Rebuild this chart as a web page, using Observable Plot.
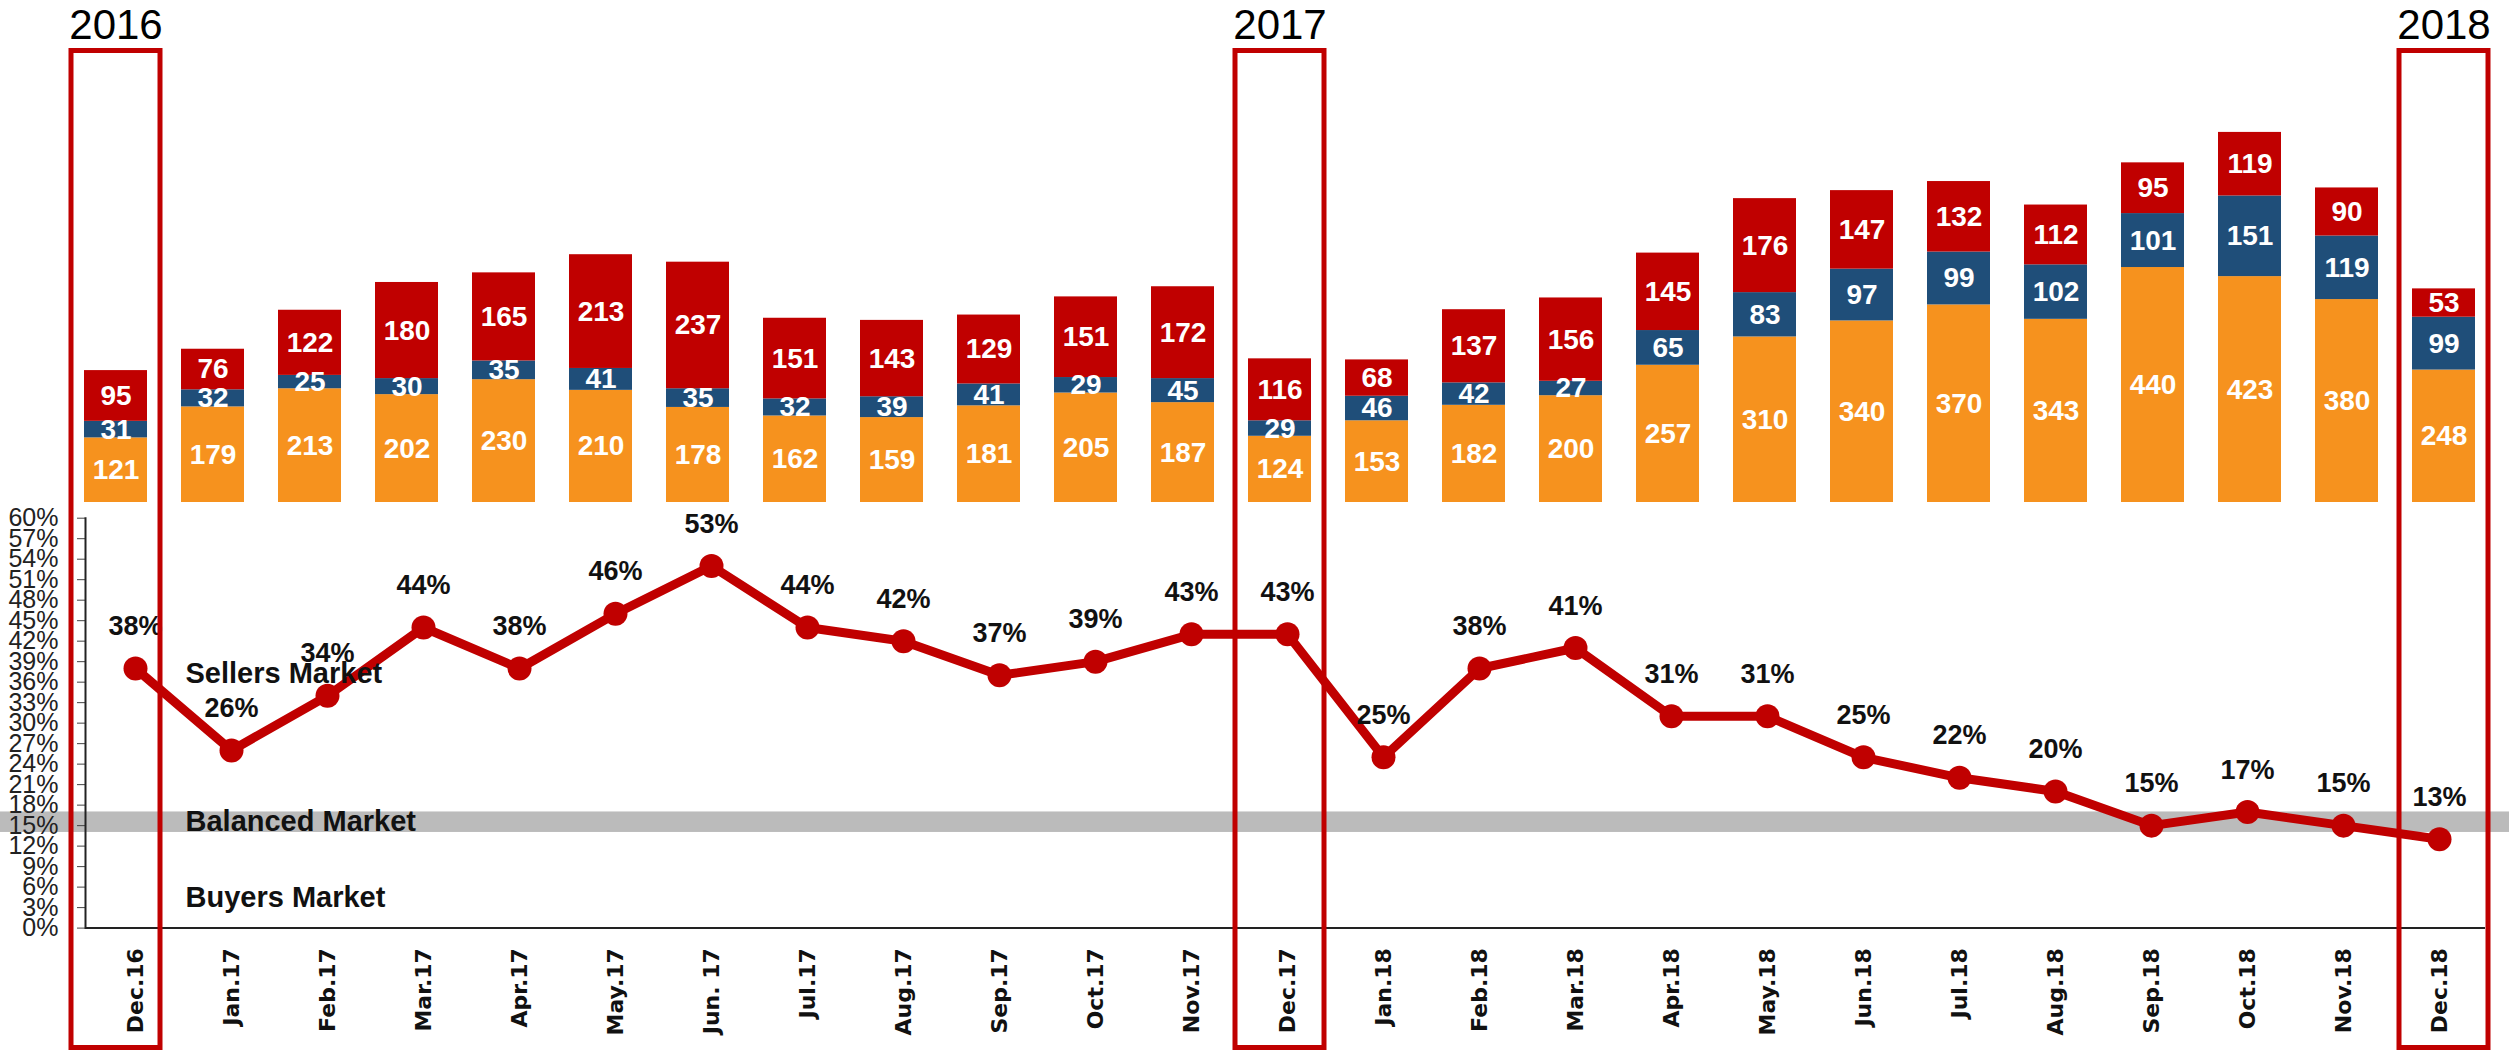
<!DOCTYPE html>
<html>
<head>
<meta charset="utf-8">
<script src="https://cdn.jsdelivr.net/npm/d3@7"></script>
<script src="https://cdn.jsdelivr.net/npm/@observablehq/plot@0.6"></script>
<style>
  body { margin: 0; background: #ffffff; }
  #chart { position: relative; width: 2509px; height: 1052px; background: #ffffff; }
  #chart svg { position: absolute; left: 0; top: 0; }
</style>
</head>
<body>
<div id="chart"></div>
<script>
// ---------- data ----------
const months = ["Dec.16","Jan.17","Feb.17","Mar.17","Apr.17","May.17","Jun. 17","Jul.17","Aug.17","Sep.17","Oct.17","Nov.17","Dec.17","Jan.18","Feb.18","Mar.18","Apr.18","May.18","Jun.18","Jul.18","Aug.18","Sep.18","Oct.18","Nov.18","Dec.18"];
const bottomValues = [121,179,213,202,230,210,178,162,159,181,205,187,124,153,182,200,257,310,340,370,343,440,423,380,248];
const middleValues = [31,32,25,30,35,41,35,32,39,41,29,45,29,46,42,27,65,83,97,99,102,101,151,119,99];
const topValues    = [95,76,122,180,165,213,237,151,143,129,151,172,116,68,137,156,145,176,147,132,112,95,119,90,53];
const ratioValues  = [38,26,34,44,38,46,53,44,42,37,39,43,43,25,38,41,31,31,25,22,20,15,17,15,13];
const yearLabels   = ["2016","2017","2018"];
const yearMonths   = ["Dec.16","Dec.17","Dec.18"];
const balancedBand = [14, 17];
const zoneLabels   = ["Sellers Market","Balanced Market","Buyers Market"];
const zoneLevels   = [37.2, 15.5, 4.4];
const pctTicks     = d3.range(0, 61, 3);

// ---------- derived tables ----------
const seriesNames = ["bottom","middle","top"];
const seriesColors = ["#F6921E","#1F4E79","#C00000"];
const seriesValues = [bottomValues, middleValues, topValues];
const barData = [];
seriesNames.forEach((s, k) => months.forEach((m, i) => barData.push({month: m, series: s, value: seriesValues[k][i]})));
const lineData = months.map((m, i) => ({month: m, pct: ratioValues[i]}));
const highlightData = yearMonths.map((m, i) => ({month: m, year: yearLabels[i]}));
const zoneData = zoneLabels.map((l, i) => ({label: l, level: zoneLevels[i]}));

const W = 2509, H = 1052;
const RED = "#C00000";
const SANS = "'Liberation Sans', Arial, sans-serif";
const noBg = {background: "none", overflow: "visible"};
const barX = {type: "band", domain: months, range: [83, 2477], paddingInner: 0.35, paddingOuter: 0, axis: null};

// ---------- stacked bars ----------
const bars = Plot.plot({
  width: W, height: H, style: noBg,
  x: barX,
  y: {domain: [0, 940], range: [502, 0], axis: null},
  color: {type: "ordinal", domain: seriesNames, range: seriesColors},
  marks: [
    Plot.barY(barData, {x: "month", y: "value", z: "series", fill: "series", order: seriesNames}),
    Plot.text(barData, Plot.stackY({x: "month", y: "value", z: "series", order: seriesNames,
      text: "value", fill: "white", fontSize: 28, fontWeight: "bold", fontFamily: SANS}))
  ]
});

// ---------- ratio line ----------
const line = Plot.plot({
  width: W, height: H, style: noBg,
  marginLeft: 85, marginRight: 24, marginTop: 517.7, marginBottom: 124.4,
  x: {type: "point", domain: months, range: [133, 2440], padding: 0, label: null},
  y: {domain: [0, 60], label: null},
  marks: [
    Plot.rect([balancedBand], {y1: d => d[0], y2: d => d[1], fill: "#BBBBBB", insetLeft: -85, insetRight: -24}),
    Plot.axisY({ticks: pctTicks, tickFormat: d => d + "%", tickSize: 8, tickPadding: 19,
      fontSize: 25, fontFamily: SANS, fill: "#222", stroke: "#444", label: null}),
    Plot.frame({anchor: "left", stroke: "#222", strokeWidth: 2}),
    Plot.ruleY([0], {stroke: "#222", strokeWidth: 2}),
    Plot.axisX({tickSize: 0, tickPadding: 20, tickRotate: -90, fontSize: 22, fontWeight: "bold",
      fontFamily: "'DejaVu Sans', sans-serif", fill: "#111", label: null}),
    Plot.line(lineData, {x: "month", y: "pct", stroke: RED, strokeWidth: 9}),
    Plot.dot(lineData, {x: "month", y: "pct", r: 12, fill: RED}),
    Plot.text(lineData, {x: "month", y: "pct", text: d => d.pct + "%", dy: -42,
      fontSize: 27, fontWeight: "bold", fontFamily: SANS, fill: "#111"}),
    Plot.text(zoneData, {frameAnchor: "left", y: "level", text: "label", textAnchor: "start", dx: 100,
      fontSize: 29, fontWeight: "bold", fontFamily: SANS, fill: "#111"})
  ]
});

// ---------- highlight boxes & years ----------
const boxes = Plot.plot({
  width: W, height: H, style: noBg,
  x: barX,
  y: {domain: [0, 1], range: [1047.5, 50.5], axis: null},
  marks: [
    Plot.barY(highlightData, {x: "month", y1: 0, y2: 1, fill: "none", stroke: RED, strokeWidth: 5,
      insetLeft: -13, insetRight: -13}),
    Plot.text(highlightData, {x: "month", y: 1, dy: -25.5, text: "year", fontSize: 42,
      fontFamily: SANS, fill: "#000"})
  ]
});

const root = document.getElementById("chart");
root.append(bars, line, boxes);
</script>
</body>
</html>
